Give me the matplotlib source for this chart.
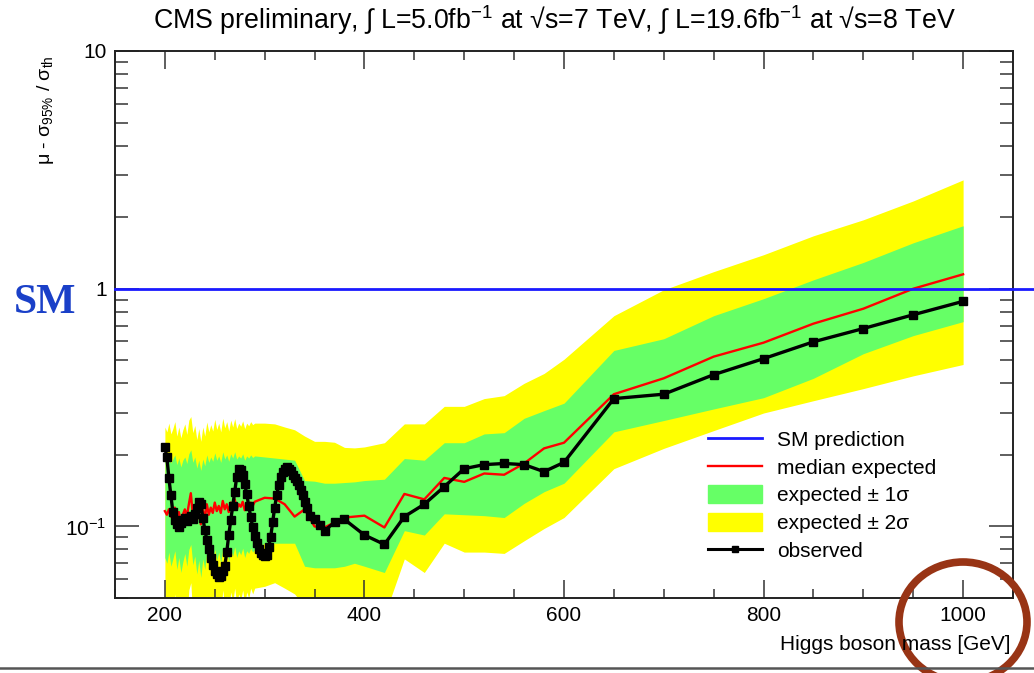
import matplotlib
matplotlib.use("Agg")
import matplotlib.pyplot as plt
from matplotlib.lines import Line2D
from matplotlib.patches import Patch, Ellipse
from matplotlib.ticker import LogLocator, NullFormatter, MultipleLocator

plt.rcParams['font.family'] = ['Liberation Sans', 'DejaVu Sans']
plt.rcParams['mathtext.fontset'] = 'custom'
plt.rcParams['mathtext.rm'] = 'Liberation Sans'
plt.rcParams['mathtext.it'] = 'Liberation Sans:italic'
plt.rcParams['mathtext.default'] = 'regular'

# expected limit and bands, per mass point [GeV]
mass_exp = [200, 202, 204, 206, 208, 210, 212, 214, 216, 218,
            220, 222, 224, 226, 228, 230, 232, 234, 236, 238,
            240, 242, 244, 246, 248, 250, 252, 254, 256, 258,
            260, 262, 264, 266, 268, 270, 272, 274, 276, 278,
            280, 282, 284, 286, 288, 290,
            300, 310, 320, 330, 340, 350, 360, 370, 380, 390, 400,
            420, 440, 460, 480, 500, 520, 540, 560, 580, 600,
            650, 700, 750, 800, 850, 900, 950, 1000]

exp_median = [0.116, 0.112, 0.118, 0.110, 0.114, 0.120, 0.108, 0.115, 0.104, 0.112,
              0.118, 0.110, 0.124, 0.138, 0.112, 0.120, 0.106, 0.116, 0.102, 0.118,
              0.108, 0.124, 0.112, 0.120, 0.114, 0.126, 0.116, 0.122, 0.114, 0.128,
              0.118, 0.124, 0.115, 0.126, 0.120, 0.130, 0.118, 0.124, 0.121, 0.127,
              0.117, 0.124, 0.121, 0.126, 0.122, 0.127,
              0.132, 0.131, 0.124, 0.110, 0.118, 0.100, 0.099, 0.104, 0.109, 0.110, 0.111,
              0.099, 0.137, 0.130, 0.160, 0.154, 0.167, 0.165, 0.184, 0.213, 0.225,
              0.360, 0.420, 0.518, 0.593, 0.713, 0.824, 1.000, 1.150]

exp_p1 = [0.195, 0.188, 0.198, 0.185, 0.192, 0.200, 0.182, 0.194, 0.178, 0.190,
          0.196, 0.184, 0.202, 0.210, 0.186, 0.196, 0.176, 0.190, 0.172, 0.192,
          0.180, 0.200, 0.186, 0.196, 0.188, 0.204, 0.190, 0.198, 0.186, 0.206,
          0.192, 0.200, 0.188, 0.202, 0.194, 0.206, 0.192, 0.198, 0.194, 0.202,
          0.190, 0.198, 0.194, 0.200, 0.195, 0.198,
          0.196, 0.194, 0.192, 0.190, 0.156, 0.155, 0.152, 0.152, 0.153, 0.154, 0.156,
          0.158, 0.193, 0.190, 0.225, 0.225, 0.245, 0.248, 0.285, 0.307, 0.330,
          0.550, 0.616, 0.770, 0.908, 1.090, 1.290, 1.560, 1.840]

exp_m1 = [0.074, 0.070, 0.078, 0.068, 0.073, 0.079, 0.066, 0.074, 0.064, 0.071,
          0.077, 0.068, 0.080, 0.084, 0.069, 0.075, 0.063, 0.072, 0.061, 0.073,
          0.066, 0.078, 0.069, 0.076, 0.071, 0.080, 0.072, 0.078, 0.070, 0.081,
          0.074, 0.079, 0.071, 0.080, 0.075, 0.082, 0.074, 0.079, 0.076, 0.081,
          0.074, 0.079, 0.077, 0.081, 0.078, 0.080,
          0.085, 0.085, 0.085, 0.085, 0.068, 0.067, 0.067, 0.067, 0.068, 0.070, 0.068,
          0.064, 0.096, 0.092, 0.113, 0.112, 0.111, 0.109, 0.125, 0.140, 0.152,
          0.250, 0.279, 0.312, 0.348, 0.420, 0.533, 0.635, 0.727]

exp_p2 = [0.262, 0.250, 0.272, 0.245, 0.258, 0.276, 0.240, 0.262, 0.236, 0.255,
          0.270, 0.244, 0.280, 0.290, 0.248, 0.266, 0.232, 0.258, 0.228, 0.262,
          0.240, 0.275, 0.250, 0.268, 0.252, 0.282, 0.256, 0.272, 0.250, 0.285,
          0.260, 0.276, 0.252, 0.280, 0.262, 0.284, 0.258, 0.272, 0.264, 0.278,
          0.258, 0.272, 0.265, 0.276, 0.268, 0.272,
          0.272, 0.270, 0.262, 0.255, 0.240, 0.228, 0.228, 0.226, 0.215, 0.214, 0.216,
          0.225, 0.270, 0.270, 0.320, 0.320, 0.345, 0.355, 0.400, 0.440, 0.505,
          0.770, 0.990, 1.180, 1.390, 1.670, 1.950, 2.340, 2.870]

exp_m2 = [0.046, 0.042, 0.050, 0.040, 0.045, 0.052, 0.038, 0.046, 0.036, 0.044,
          0.050, 0.040, 0.054, 0.058, 0.041, 0.048, 0.035, 0.045, 0.034, 0.046,
          0.038, 0.051, 0.042, 0.049, 0.044, 0.053, 0.045, 0.050, 0.043, 0.054,
          0.046, 0.051, 0.044, 0.053, 0.048, 0.055, 0.047, 0.052, 0.049, 0.054,
          0.047, 0.053, 0.050, 0.055, 0.052, 0.055,
          0.056, 0.058, 0.055, 0.052, 0.046, 0.045, 0.045, 0.046, 0.047, 0.048, 0.047,
          0.042, 0.073, 0.064, 0.085, 0.078, 0.078, 0.077, 0.087, 0.098, 0.109,
          0.175, 0.213, 0.253, 0.300, 0.338, 0.380, 0.430, 0.480]

# observed limit
mass_obs = [200, 202, 204, 206, 208, 210, 212, 214, 216, 218,
            220, 222, 224, 226, 228, 230, 232, 234, 236, 238,
            240, 242, 244, 246, 248, 250, 252, 254, 256, 258,
            260, 262, 264, 266, 268, 270, 272, 274, 276, 278,
            280, 282, 284, 286, 288, 290, 292, 294, 296, 298,
            300, 302, 304, 306, 308, 310, 312, 314, 316, 318,
            320, 322, 324, 326, 328, 330, 332, 334, 336, 338,
            340, 342, 345, 350, 355, 360, 370, 380, 400, 420,
            440, 460, 480, 500, 520, 540, 560, 580, 600,
            650, 700, 750, 800, 850, 900, 950, 1000]

obs = [0.215, 0.195, 0.160, 0.135, 0.115, 0.106, 0.102, 0.099, 0.103, 0.106,
       0.108, 0.105, 0.109, 0.111, 0.107, 0.113, 0.120, 0.127, 0.124, 0.109,
       0.097, 0.088, 0.080, 0.074, 0.069, 0.065, 0.063, 0.061, 0.062, 0.065,
       0.068, 0.078, 0.092, 0.106, 0.122, 0.140, 0.162, 0.174, 0.173, 0.165,
       0.151, 0.137, 0.122, 0.110, 0.099, 0.091, 0.085, 0.080, 0.077, 0.076,
       0.075, 0.076, 0.082, 0.090, 0.104, 0.120, 0.135, 0.149, 0.161, 0.170,
       0.175, 0.177, 0.175, 0.171, 0.165, 0.160, 0.156, 0.150, 0.142, 0.135,
       0.127, 0.120, 0.111, 0.107, 0.101, 0.096, 0.104, 0.107, 0.092, 0.084,
       0.110, 0.124, 0.147, 0.175, 0.182, 0.184, 0.182, 0.170, 0.186,
       0.345, 0.360, 0.435, 0.508, 0.598, 0.680, 0.777, 0.885]

W, H = 1034, 673
fig = plt.figure(figsize=(W / 100, H / 100), dpi=100)
ax = fig.add_axes([115 / W, 1 - 598 / H, (1013 - 115) / W, (598 - 51) / H])

ax.fill_between(mass_exp, exp_m2, exp_p2, color='#ffff00', lw=0)
ax.fill_between(mass_exp, exp_m1, exp_p1, color='#66ff66', lw=0)
ax.plot(mass_exp, exp_median, color='#ff0000', lw=1.7)
ax.plot(mass_obs, obs, color='black', lw=2.4, marker='s', ms=5.5)
ax.axhline(1.0, xmin=0, xmax=1.03, color='#1a1aff', lw=2, clip_on=False, zorder=5)

ax.set_yscale('log')
ax.set_xlim(150, 1050)
ax.set_ylim(0.05, 10)

# ROOT-like ticks on all sides
ax.xaxis.set_major_locator(MultipleLocator(200))
ax.xaxis.set_minor_locator(MultipleLocator(50))
ax.set_yticks([0.1, 1, 10])
ax.set_yticklabels(['$10^{-1}$', '1', '10'])
ax.yaxis.set_minor_locator(LogLocator(base=10, subs=[2, 3, 4, 5, 6, 7, 8, 9]))
ax.yaxis.set_minor_formatter(NullFormatter())
ax.tick_params(which='both', direction='in', top=True, right=True,
               colors='#333333', labelcolor='black', labelsize=15, width=1.1)
ax.tick_params(axis='x', which='major', length=13, pad=6)
ax.tick_params(axis='x', which='minor', length=6.5)
ax.tick_params(axis='y', which='major', length=17, pad=6)
ax.tick_params(axis='y', which='minor', length=9.5)
for s in ax.spines.values():
    s.set_linewidth(1.4)
    s.set_color('#222222')

fig.text(1010 / W, 1 - 645 / H, 'Higgs boson mass [GeV]', fontsize=15,
         ha='right', va='center')

fig.text(554 / W, 1 - 20 / H,
         'CMS preliminary, \u222b L=5.0fb$^{-1}$ at \u221As=7 TeV, '
         '\u222b L=19.6fb$^{-1}$ at \u221As=8 TeV',
         ha='center', va='center', fontsize=19.3)
fig.text(45 / W, 1 - 55 / H, '\u03bc - \u03c3$_{95\\%}$ / \u03c3$_{th}$',
         rotation=90, ha='center', va='top', fontsize=14)

handles = [Line2D([], [], color='#1a1aff', lw=2),
           Line2D([], [], color='#ff0000', lw=1.7),
           Patch(color='#66ff66'),
           Patch(color='#ffff00'),
           Line2D([], [], color='black', lw=2.2, marker='s', ms=5)]
labels = ['SM prediction', 'median expected', 'expected \u00b1 1\u03c3',
          'expected \u00b1 2\u03c3', 'observed']
fig.legend(handles, labels, loc='upper left', frameon=False, fontsize=15,
           bbox_to_anchor=(708 / W, 1 - 430 / H), bbox_transform=fig.transFigure,
           borderpad=0, borderaxespad=0, handlelength=2.6, handleheight=0.9,
           handletextpad=0.7, labelspacing=0.38)

# slide annotations
fig.text(45 / W, 1 - 303 / H, 'SM', color='#1a40c8', fontsize=30,
         fontweight='bold', family='Liberation Serif', ha='center', va='center')
fig.add_artist(Ellipse((963 / W, 1 - 622 / H), 128 / W, 120 / H,
                       transform=fig.transFigure, fill=False,
                       ec='#983415', lw=5.5))
fig.add_artist(Line2D([0, 1], [1 - 668 / H] * 2, color='#555555', lw=1.8,
                      transform=fig.transFigure))

fig.savefig('out.png', dpi=100)
